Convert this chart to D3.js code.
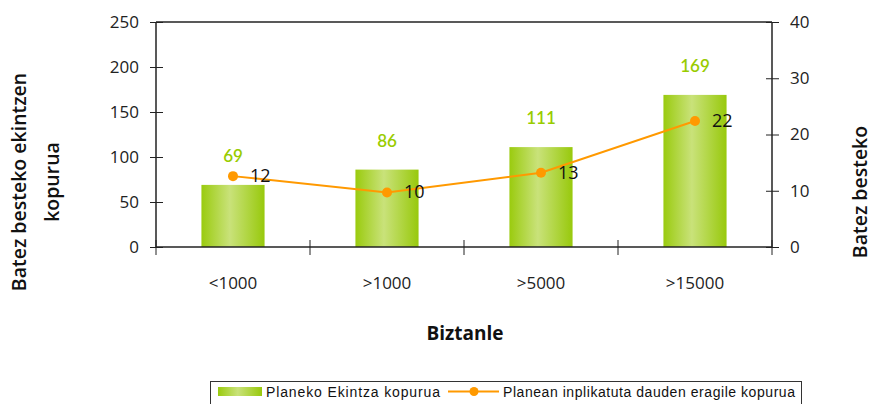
<!DOCTYPE html>
<html>
<head>
<meta charset="utf-8">
<script src="https://cdn.jsdelivr.net/npm/d3@7"></script>
<style>
  body { margin: 0; background: #fff; }
  svg { display: block; }
</style>
</head>
<body>
<svg id="chart" width="872" height="404"></svg>
<script>
var w = 872;
var h = 404;

// data
var categories = ["<1000", ">1000", ">5000", ">15000"];
var ekintzak = [69, 86, 111, 169];
var eragileak = [12.6, 9.7, 13.2, 22.4];
var eragileLabels = ["12", "10", "13", "22"];
var leftTicks = [0, 50, 100, 150, 200, 250];
var rightTicks = [0, 10, 20, 30, 40];

var pLeft = 156, pRight = 772, pTop = 22, pBottom = 247;

var svg = d3.select("#chart");

var defs = svg.append("defs");
var grad = defs.append("linearGradient")
    .attr("id", "barGrad")
    .attr("x1", "0%").attr("x2", "100%")
    .attr("y1", "0%").attr("y2", "0%");
grad.append("stop").attr("offset", "0%").attr("stop-color", "#9acb0e");
grad.append("stop").attr("offset", "45%").attr("stop-color", "#c9e27a");
grad.append("stop").attr("offset", "100%").attr("stop-color", "#98c90c");

var x = d3.scaleBand()
    .domain(categories)
    .range([pLeft, pRight]);

var y = d3.scaleLinear()
    .domain([0, 250])
    .range([pBottom, pTop]);

var y2 = d3.scaleLinear()
    .domain([0, 40])
    .range([pBottom, pTop]);

var barW = x.bandwidth() * 0.41;

// top frame line
svg.append("line")
    .attr("x1", pLeft).attr("x2", pRight)
    .attr("y1", pTop).attr("y2", pTop)
    .attr("stroke", "#222")
    .attr("stroke-width", 1.5);

// bars
svg.selectAll("rect.bar")
    .data(ekintzak)
    .enter()
    .append("rect")
    .attr("class", "bar")
    .attr("x", function(d, i){ return x(categories[i]) + x.bandwidth() / 2 - barW / 2; })
    .attr("y", function(d){ return y(d); })
    .attr("width", barW)
    .attr("height", function(d){ return pBottom - y(d); })
    .attr("fill", "url(#barGrad)");

// bar value labels
svg.selectAll("text.barlabel")
    .data(ekintzak)
    .enter()
    .append("text")
    .attr("class", "barlabel")
    .attr("x", function(d, i){ return x(categories[i]) + x.bandwidth() / 2; })
    .attr("y", function(d){ return y(d) - 23; })
    .attr("text-anchor", "middle")
    .style("font-family", "Lato, 'Open Sans', sans-serif")
    .style("font-size", "17px")
    .style("font-weight", "600")
    .style("fill", "#99cc00")
    .text(function(d){ return d; });

// left axis
var axisL = svg.append("g")
    .attr("transform", "translate(" + pLeft + ",0)")
    .call(d3.axisLeft(y).tickValues(leftTicks).tickSize(6).tickPadding(11));

// right axis
var axisR = svg.append("g")
    .attr("transform", "translate(" + pRight + ",0)")
    .call(d3.axisRight(y2).tickValues(rightTicks).tickSize(7).tickPadding(11));

// bottom axis
var axisB = svg.append("g")
    .attr("transform", "translate(0," + pBottom + ")")
    .call(d3.axisBottom(x).tickSize(0).tickPadding(30));

axisB.selectAll(".tick line").remove();
// category separators
var sep = [pLeft].concat(categories.map(function(c){ return x(c) + x.bandwidth(); }));
axisB.selectAll("line.sep")
    .data(sep)
    .enter()
    .append("line")
    .attr("class", "sep")
    .attr("x1", function(d){ return d; })
    .attr("x2", function(d){ return d; })
    .attr("y1", -7)
    .attr("y2", 8)
    .attr("stroke", "#222");

axisL.selectAll(".tick line").attr("x2", 7).attr("x1", -6);
axisR.selectAll(".tick line").attr("x1", -6).attr("x2", 7);

[axisL, axisR, axisB].forEach(function(a){
    a.select(".domain").attr("stroke", "#222").attr("stroke-width", 1.5);
    a.selectAll(".tick line").attr("stroke", "#222");
    a.selectAll("text")
        .style("font-family", "'Open Sans', sans-serif")
        .style("font-size", "17px")
        .style("fill", "#222");
});
axisL.select(".domain").attr("d", "M0," + pTop + "V" + pBottom);
axisR.select(".domain").attr("d", "M0," + pTop + "V" + pBottom);
axisB.select(".domain").attr("d", "M" + pLeft + ",0H" + pRight);

// line series
var line = d3.line()
    .x(function(d, i){ return x(categories[i]) + x.bandwidth() / 2; })
    .y(function(d){ return y2(d); });

svg.append("path")
    .datum(eragileak)
    .attr("d", line)
    .attr("fill", "none")
    .attr("stroke", "#ff9900")
    .attr("stroke-width", 2);

svg.selectAll("circle.dot")
    .data(eragileak)
    .enter()
    .append("circle")
    .attr("class", "dot")
    .attr("cx", function(d, i){ return x(categories[i]) + x.bandwidth() / 2; })
    .attr("cy", function(d){ return y2(d); })
    .attr("r", 5)
    .attr("fill", "#ff9900");

svg.selectAll("text.linelabel")
    .data(eragileak)
    .enter()
    .append("text")
    .attr("class", "linelabel")
    .attr("x", function(d, i){ return x(categories[i]) + x.bandwidth() / 2 + 17; })
    .attr("y", function(d){ return y2(d) + 6; })
    .style("font-family", "'Open Sans', sans-serif")
    .style("font-size", "18px")
    .style("fill", "#111")
    .text(function(d, i){ return eragileLabels[i]; });

// axis titles
var ytitle = svg.append("text")
    .attr("transform", "translate(26,182) rotate(-90)")
    .attr("text-anchor", "middle")
    .style("font-family", "'Open Sans', sans-serif")
    .style("font-size", "19.5px")
    .style("font-weight", "600")
    .style("fill", "#111");
ytitle.append("tspan").attr("x", 0).attr("dy", 0).text("Batez besteko ekintzen");
ytitle.append("tspan").attr("x", 0).attr("dy", 33).text("kopurua");

svg.append("text")
    .attr("transform", "translate(867,192) rotate(-90)")
    .attr("text-anchor", "middle")
    .style("font-family", "'Open Sans', sans-serif")
    .style("font-size", "19.5px")
    .style("font-weight", "600")
    .style("fill", "#111")
    .text("Batez besteko");

svg.append("text")
    .attr("x", 465)
    .attr("y", 340)
    .attr("text-anchor", "middle")
    .style("font-family", "'Open Sans', sans-serif")
    .style("font-size", "19px")
    .style("font-weight", "bold")
    .style("fill", "#111")
    .text("Biztanle");

// legend
var legend = svg.append("g");
legend.append("rect")
    .attr("x", 210.5).attr("y", 381.5)
    .attr("width", 591).attr("height", 40)
    .attr("fill", "#fff")
    .attr("stroke", "#333");
legend.append("rect")
    .attr("x", 218).attr("y", 387)
    .attr("width", 44).attr("height", 9)
    .attr("fill", "url(#barGrad)");
legend.append("text")
    .attr("x", 266).attr("y", 397)
    .attr("textLength", 174)
    .style("font-family", "'Liberation Sans', Arial, sans-serif")
    .style("font-size", "14px")
    .style("fill", "#111")
    .text("Planeko Ekintza kopurua");
legend.append("line")
    .attr("x1", 448).attr("x2", 499)
    .attr("y1", 391.5).attr("y2", 391.5)
    .attr("stroke", "#ff9900").attr("stroke-width", 2);
legend.append("circle")
    .attr("cx", 474).attr("cy", 391.5).attr("r", 4.5)
    .attr("fill", "#ff9900");
legend.append("text")
    .attr("x", 503).attr("y", 397)
    .attr("textLength", 292)
    .style("font-family", "'Liberation Sans', Arial, sans-serif")
    .style("font-size", "14px")
    .style("fill", "#111")
    .text("Planean inplikatuta dauden eragile kopurua");
</script>
</body>
</html>
